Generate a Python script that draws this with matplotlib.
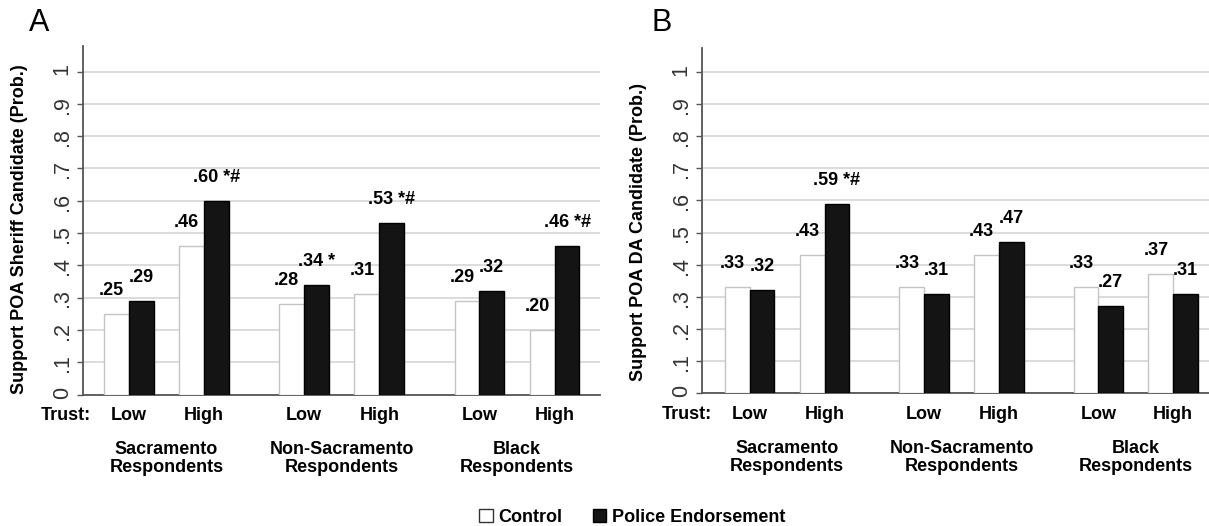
import numpy as np
import matplotlib.pyplot as plt
from matplotlib.patches import Patch

plt.rcParams['font.family'] = ['Liberation Sans', 'DejaVu Sans']

# data
groups = ["Sacramento\nRespondents", "Non-Sacramento\nRespondents", "Black\nRespondents"]
trust_levels = ["Low", "High"]

sheriff_control = [0.25, 0.46, 0.28, 0.31, 0.29, 0.20]
sheriff_police = [0.29, 0.60, 0.34, 0.53, 0.32, 0.46]
sheriff_marks = ["", " *#", " *", " *#", "", " *#"]

da_control = [0.33, 0.43, 0.33, 0.43, 0.33, 0.37]
da_police = [0.32, 0.59, 0.31, 0.47, 0.27, 0.31]
da_marks = ["", " *#", "", "", "", ""]

ytick_vals = np.arange(0, 1.01, 0.1)
ytick_labels = ["0", ".1", ".2", ".3", ".4", ".5", ".6", ".7", ".8", ".9", "1"]

# bar pair centers: two trust levels per group, wider gap between groups
gap = 2.33
pos = np.array([g * gap + t for g in range(len(groups)) for t in range(len(trust_levels))])
w = 0.33


def fmt(v):
    return f"{v:.2f}"[1:]


def draw_panel(ax, control, police, marks, ylabel, xlim, ytop, label_x, label_y):
    ax.bar(pos - w / 2, control, w, color='white', edgecolor='#c4c4c4', linewidth=1, zorder=3)
    ax.bar(pos + w / 2, police, w, color='#141414', edgecolor='black', linewidth=1, zorder=3)

    for x, v in zip(pos - w / 2, control):
        ax.annotate(fmt(v), (x, v), xytext=(-3.5, 17), textcoords='offset points',
                    ha='center', va='center', fontsize=13, fontweight='bold')
    for x, v, m in zip(pos + w / 2, police, marks):
        ax.annotate(fmt(v) + m, (x, v), xytext=(0, 17), textcoords='offset points',
                    ha='center', va='center', fontsize=13, fontweight='bold')

    ax.set_xlim(*xlim)
    ax.set_ylim(0, ytop)
    ax.set_yticks(ytick_vals)
    ax.set_yticklabels(ytick_labels)
    ax.tick_params(axis='y', length=4.3, width=1, color='#555555', pad=3,
                   labelsize=15.5, labelcolor='#333333', labelrotation=90)
    ax.set_xticks([])
    ax.yaxis.grid(True, color='#d6d6d6', linewidth=1.2)
    ax.set_axisbelow(True)
    for s in ['top', 'right']:
        ax.spines[s].set_visible(False)
    for s in ['left', 'bottom']:
        ax.spines[s].set_color('#555555')
        ax.spines[s].set_linewidth(1.3)

    ax.set_ylabel(ylabel, fontsize=13, fontweight='bold')
    ax.yaxis.set_label_coords(label_x, label_y)

    # category labels under the axis
    ax.annotate("Trust:", (-0.5, 0), xytext=(0, -15), textcoords='offset points',
                ha='right', va='center', fontsize=13, fontweight='bold')
    for i, x in enumerate(pos):
        ax.annotate(trust_levels[i % 2], (x, 0), xytext=(0, -15), textcoords='offset points',
                    ha='center', va='center', fontsize=13, fontweight='bold')
    for g, name in enumerate(groups):
        xm = g * gap + 0.5
        ax.annotate(name, (xm, 0), xytext=(0, -46), textcoords='offset points',
                    ha='center', va='center', fontsize=13, fontweight='bold',
                    linespacing=1.1)


fig = plt.figure(figsize=(12.09, 5.26), dpi=100)
axA = fig.add_axes([0.0685, 0.25, 0.4276, 0.6625])
axB = fig.add_axes([0.5806, 0.2523, 0.4194, 0.657])

draw_panel(axA, sheriff_control, sheriff_police, sheriff_marks,
           "Support POA Sheriff Candidate (Prob.)", (-0.61, 6.26), 1.079, -0.106, 0.476)
draw_panel(axB, da_control, da_police, da_marks,
           "Support POA DA Candidate (Prob.)", (-0.64, 6.14), 1.075, -0.108, 0.468)

fig.text(39 / 1209, 1 - 23 / 526, "A", fontsize=22, ha='center', va='center')
fig.text(662 / 1209, 1 - 23 / 526, "B", fontsize=22, ha='center', va='center')

handles = [Patch(facecolor='white', edgecolor='#333333', label='Control'),
           Patch(facecolor='#141414', edgecolor='black', label='Police Endorsement')]
fig.legend(handles=handles, loc='center', bbox_to_anchor=(0.5228, 0.016), ncol=2,
           frameon=False, handlelength=0.75, handleheight=0.75, handletextpad=0.3,
           columnspacing=1.7, borderpad=0, prop={'weight': 'bold', 'size': 13})

fig.savefig('out.png', dpi=100)
